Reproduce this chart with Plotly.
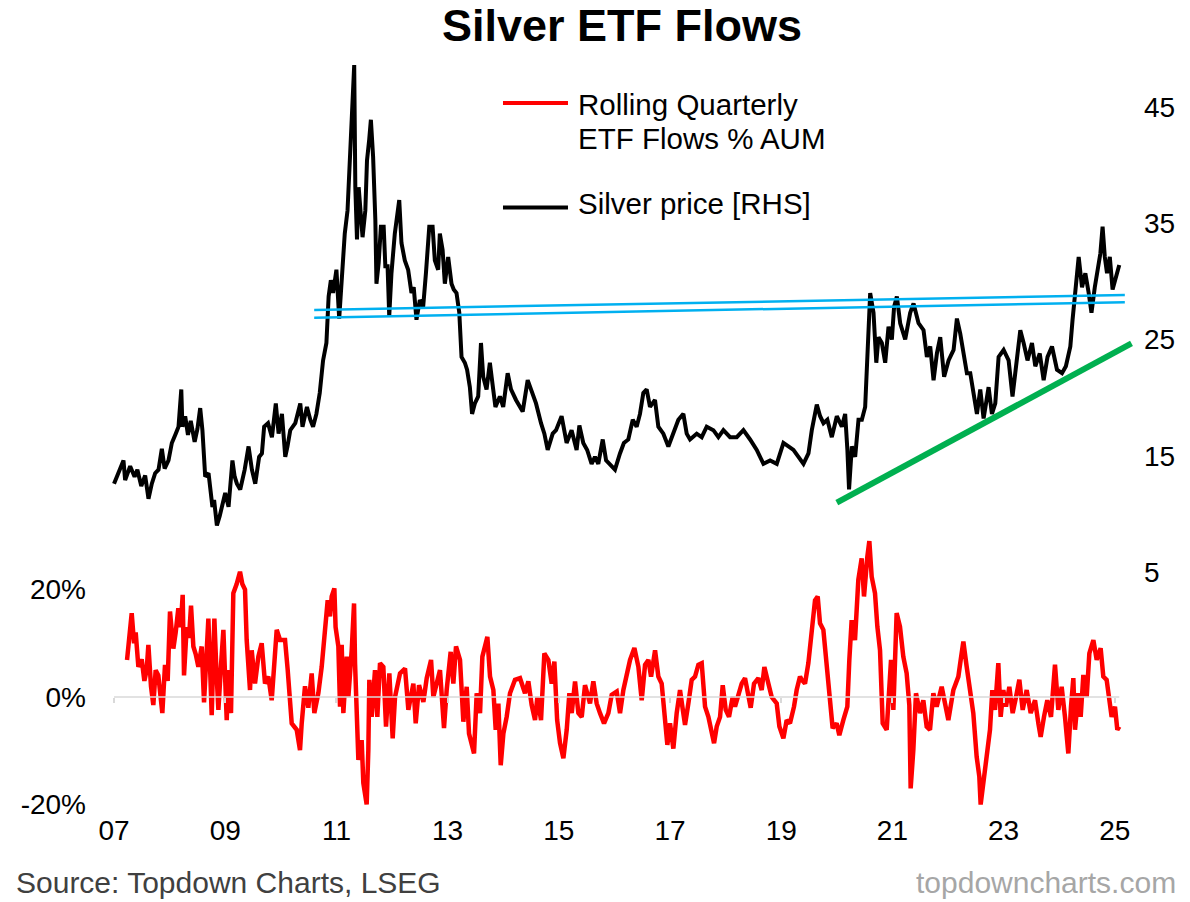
import plotly.graph_objects as go

# Silver price, USD/oz (right axis) -- time in decimal years
PRICE_T = [
    2007.00, 2007.08, 2007.17, 2007.20, 2007.29, 2007.37, 2007.42, 2007.49, 2007.56, 2007.62,
    2007.68, 2007.74, 2007.80, 2007.86, 2007.91, 2007.98, 2008.04, 2008.11, 2008.16, 2008.21,
    2008.23, 2008.28, 2008.33, 2008.38, 2008.45, 2008.50, 2008.55, 2008.59, 2008.64, 2008.70,
    2008.73, 2008.77, 2008.80, 2008.85, 2008.90, 2008.94, 2009.00, 2009.06, 2009.13, 2009.17,
    2009.21, 2009.27, 2009.35, 2009.42, 2009.48, 2009.54, 2009.61, 2009.66, 2009.70, 2009.77,
    2009.84, 2009.91, 2009.96, 2010.02, 2010.08, 2010.12, 2010.17, 2010.26, 2010.35, 2010.39,
    2010.47, 2010.53, 2010.58, 2010.64, 2010.70, 2010.76, 2010.82, 2010.86, 2010.90, 2010.94,
    2011.00, 2011.05, 2011.09, 2011.15, 2011.20, 2011.24, 2011.29, 2011.32, 2011.34, 2011.37,
    2011.40, 2011.44, 2011.47, 2011.52, 2011.55, 2011.59, 2011.62, 2011.66, 2011.70, 2011.72,
    2011.76, 2011.80, 2011.85, 2011.88, 2011.92, 2011.95, 2011.99, 2012.05, 2012.13, 2012.17,
    2012.23, 2012.29, 2012.35, 2012.39, 2012.44, 2012.50, 2012.56, 2012.61, 2012.67, 2012.73,
    2012.77, 2012.83, 2012.86, 2012.91, 2012.95, 2013.01, 2013.07, 2013.11, 2013.16, 2013.21,
    2013.25, 2013.31, 2013.35, 2013.40, 2013.44, 2013.49, 2013.55, 2013.60, 2013.64, 2013.70,
    2013.76, 2013.82, 2013.86, 2013.94, 2014.00, 2014.08, 2014.14, 2014.23, 2014.35, 2014.44,
    2014.52, 2014.59, 2014.68, 2014.74, 2014.80, 2014.89, 2014.95, 2015.05, 2015.14, 2015.23,
    2015.32, 2015.37, 2015.44, 2015.51, 2015.59, 2015.65, 2015.71, 2015.79, 2015.85, 2015.92,
    2016.01, 2016.10, 2016.17, 2016.25, 2016.33, 2016.40, 2016.46, 2016.52, 2016.58, 2016.64,
    2016.73, 2016.79, 2016.88, 2016.97, 2017.06, 2017.15, 2017.24, 2017.30, 2017.36, 2017.48,
    2017.57, 2017.66, 2017.78, 2017.87, 2017.96, 2018.08, 2018.20, 2018.32, 2018.44, 2018.56,
    2018.68, 2018.80, 2018.92, 2019.04, 2019.13, 2019.22, 2019.31, 2019.40, 2019.49, 2019.55,
    2019.64, 2019.70, 2019.76, 2019.83, 2019.91, 2020.00, 2020.09, 2020.15, 2020.19, 2020.22,
    2020.27, 2020.33, 2020.39, 2020.45, 2020.51, 2020.55, 2020.60, 2020.66, 2020.71, 2020.75,
    2020.81, 2020.87, 2020.93, 2020.99, 2021.03, 2021.08, 2021.14, 2021.23, 2021.32, 2021.38,
    2021.47, 2021.56, 2021.62, 2021.68, 2021.74, 2021.80, 2021.86, 2021.93, 2022.01, 2022.10,
    2022.16, 2022.22, 2022.28, 2022.34, 2022.40, 2022.46, 2022.52, 2022.58, 2022.64, 2022.73,
    2022.79, 2022.85, 2022.91, 2023.00, 2023.09, 2023.16, 2023.24, 2023.30, 2023.36, 2023.43,
    2023.51, 2023.57, 2023.65, 2023.72, 2023.79, 2023.87, 2023.96, 2024.05, 2024.12, 2024.20,
    2024.24, 2024.29, 2024.35, 2024.41, 2024.47, 2024.53, 2024.58, 2024.64, 2024.70, 2024.74,
    2024.78, 2024.82, 2024.86, 2024.91, 2024.96, 2025.02, 2025.08,
]
PRICE_V = [
    12.6, 13.5, 14.6, 12.9, 14.1, 13.2, 13.8, 12.4, 13.3, 11.3,
    12.6, 13.5, 13.8, 15.6, 13.9, 14.6, 16.1, 16.9, 17.5, 20.7,
    17.5, 18.4, 16.8, 18.0, 16.2, 17.3, 19.1, 17.2, 13.2, 13.5,
    12.0, 10.6, 11.2, 9.0, 9.8, 10.5, 11.8, 10.6, 14.6, 13.2,
    12.6, 12.1, 13.8, 15.8, 13.8, 12.6, 14.9, 15.2, 17.5, 17.8,
    16.6, 19.5, 16.9, 18.6, 14.9, 15.8, 17.2, 17.8, 19.5, 17.5,
    19.2, 18.1, 17.5, 18.6, 20.4, 23.2, 24.7, 28.7, 30.1, 29.0,
    31.0, 26.8, 29.8, 34.1, 36.1, 40.4, 44.7, 48.6, 38.1, 33.6,
    38.1, 35.6, 33.8, 36.1, 40.4, 42.2, 43.9, 40.7, 35.3, 29.8,
    31.6, 34.7, 34.7, 31.3, 31.3, 27.0, 30.7, 34.1, 37.0, 33.3,
    31.8, 31.0, 29.0, 29.5, 26.7, 28.4, 27.8, 30.7, 34.7, 34.7,
    31.8, 31.0, 34.1, 32.7, 29.8, 32.1, 29.8, 29.3, 29.0, 27.3,
    23.5, 23.0, 22.4, 20.9, 18.6, 19.5, 20.1, 24.7, 21.8, 20.7,
    23.0, 20.7, 19.2, 20.1, 19.2, 22.1, 20.7, 19.8, 18.8, 21.5,
    20.4, 19.5, 17.8, 16.9, 15.5, 16.9, 17.2, 18.4, 16.1, 17.2,
    15.5, 17.6, 16.1, 15.5, 14.3, 14.9, 14.3, 16.4, 14.6, 14.2,
    13.8, 15.2, 16.1, 16.4, 18.1, 17.5, 18.6, 20.4, 20.7, 19.2,
    19.8, 17.5, 16.9, 15.8, 16.9, 18.1, 18.6, 16.9, 16.4, 16.9,
    16.6, 17.5, 17.2, 16.6, 17.2, 16.6, 16.6, 17.2, 16.4, 15.5,
    14.3, 14.6, 14.3, 16.1, 15.8, 15.5, 14.9, 14.3, 15.2, 17.2,
    19.4, 18.4, 17.8, 18.1, 16.6, 18.4, 17.5, 18.6, 15.5, 12.1,
    15.8, 14.9, 18.1, 18.1, 19.2, 23.2, 29.0, 27.3, 23.0, 25.2,
    24.7, 23.0, 26.1, 25.0, 27.8, 28.7, 26.4, 25.0, 27.3, 28.1,
    26.4, 25.8, 23.5, 24.4, 21.5, 23.8, 25.2, 21.8, 23.2, 24.1,
    26.8, 25.5, 23.8, 22.1, 22.1, 20.4, 18.6, 20.7, 18.2, 20.9,
    18.6, 19.5, 23.5, 24.1, 23.2, 20.1, 23.2, 25.8, 24.7, 23.2,
    24.7, 22.7, 23.8, 21.5, 23.5, 24.4, 22.4, 22.1, 22.7, 24.4,
    26.7, 29.0, 32.1, 29.5, 30.7, 29.0, 27.3, 29.5, 31.3, 32.4,
    34.7, 32.1, 30.7, 32.1, 29.3, 30.4, 31.4,
]

# Rolling quarterly ETF flows, % of AUM (left axis)
FLOW_T = [
    2007.234, 2007.318, 2007.360, 2007.390, 2007.438, 2007.498, 2007.546, 2007.587, 2007.618, 2007.665,
    2007.707, 2007.749, 2007.797, 2007.833, 2007.869, 2007.917, 2007.965, 2008.007, 2008.067, 2008.109,
    2008.157, 2008.199, 2008.235, 2008.259, 2008.307, 2008.349, 2008.385, 2008.427, 2008.469, 2008.517,
    2008.577, 2008.619, 2008.655, 2008.697, 2008.757, 2008.805, 2008.841, 2008.877, 2008.925, 2008.967,
    2009.027, 2009.056, 2009.104, 2009.146, 2009.206, 2009.266, 2009.308, 2009.356, 2009.386, 2009.446,
    2009.476, 2009.536, 2009.596, 2009.656, 2009.716, 2009.776, 2009.836, 2009.878, 2009.926, 2009.986,
    2010.076, 2010.124, 2010.166, 2010.196, 2010.286, 2010.345, 2010.375, 2010.405, 2010.435, 2010.495,
    2010.555, 2010.603, 2010.675, 2010.735, 2010.795, 2010.843, 2010.885, 2010.915, 2010.963, 2010.985,
    2011.035, 2011.065, 2011.095, 2011.125, 2011.185, 2011.215, 2011.275, 2011.317, 2011.335, 2011.365,
    2011.395, 2011.454, 2011.484, 2011.544, 2011.574, 2011.592, 2011.634, 2011.694, 2011.736, 2011.784,
    2011.844, 2011.892, 2011.952, 2012.012, 2012.054, 2012.144, 2012.234, 2012.294, 2012.384, 2012.426,
    2012.486, 2012.564, 2012.624, 2012.702, 2012.743, 2012.863, 2012.935, 2012.983, 2013.055, 2013.103,
    2013.151, 2013.223, 2013.283, 2013.343, 2013.385, 2013.475, 2013.523, 2013.583, 2013.625, 2013.715,
    2013.763, 2013.823, 2013.865, 2013.913, 2013.955, 2014.003, 2014.062, 2014.122, 2014.212, 2014.302,
    2014.392, 2014.452, 2014.512, 2014.572, 2014.614, 2014.680, 2014.740, 2014.812, 2014.872, 2014.920,
    2014.970, 2015.022, 2015.082, 2015.142, 2015.190, 2015.232, 2015.292, 2015.352, 2015.412, 2015.471,
    2015.561, 2015.621, 2015.681, 2015.741, 2015.813, 2015.891, 2015.951, 2016.041, 2016.101, 2016.161,
    2016.221, 2016.281, 2016.359, 2016.431, 2016.491, 2016.551, 2016.611, 2016.659, 2016.731, 2016.790,
    2016.850, 2016.910, 2016.952, 2017.000, 2017.060, 2017.120, 2017.180, 2017.222, 2017.270, 2017.330,
    2017.390, 2017.450, 2017.510, 2017.570, 2017.630, 2017.690, 2017.750, 2017.792, 2017.840, 2017.900,
    2017.948, 2018.002, 2018.061, 2018.127, 2018.169, 2018.229, 2018.289, 2018.349, 2018.397, 2018.451,
    2018.511, 2018.589, 2018.649, 2018.697, 2018.769, 2018.829, 2018.919, 2018.967, 2019.039, 2019.098,
    2019.158, 2019.230, 2019.278, 2019.338, 2019.368, 2019.428, 2019.488, 2019.548, 2019.608, 2019.656,
    2019.698, 2019.758, 2019.817, 2019.877, 2019.925, 2019.997, 2020.045, 2020.117, 2020.189, 2020.225,
    2020.267, 2020.327, 2020.387, 2020.447, 2020.489, 2020.549, 2020.585, 2020.627, 2020.687, 2020.729,
    2020.777, 2020.825, 2020.897, 2020.975, 2021.017, 2021.076, 2021.136, 2021.196, 2021.256, 2021.304,
    2021.328, 2021.376, 2021.424, 2021.496, 2021.556, 2021.616, 2021.676, 2021.736, 2021.796, 2021.886,
    2021.946, 2022.006, 2022.096, 2022.186, 2022.228, 2022.276, 2022.336, 2022.395, 2022.455, 2022.515,
    2022.563, 2022.587, 2022.635, 2022.695, 2022.755, 2022.797, 2022.845, 2022.905, 2022.947, 2022.995,
    2023.043, 2023.103, 2023.163, 2023.223, 2023.283, 2023.343, 2023.415, 2023.487, 2023.565, 2023.625,
    2023.666, 2023.726, 2023.786, 2023.852, 2023.924, 2023.984, 2024.044, 2024.104, 2024.164, 2024.212,
    2024.254, 2024.284, 2024.344, 2024.386, 2024.434, 2024.494, 2024.542, 2024.614, 2024.674, 2024.745,
    2024.793, 2024.853, 2024.901, 2024.943, 2025.003, 2025.045, 2025.081,
]
FLOW_V = [
    6.9, 15.6, 10.0, 12.0, 5.6, 7.0, 3.0, 5.0, 9.7, 2.0,
    -1.5, 5.0, 4.0, 1.0, -3.0, 6.0, 3.0, 15.9, 9.0, 12.0,
    16.5, 13.0, 19.0, 4.0, 13.0, 11.0, 17.0, 9.4, 8.0, 5.6,
    9.4, -1.0, 8.0, 14.6, -3.4, 14.6, 5.0, -2.4, 6.0, 12.5,
    -4.3, 5.0, -3.0, 19.3, 21.0, 23.3, 21.0, 20.0, 10.6, 1.3,
    8.7, 2.5, 7.5, 10.0, 2.5, 3.8, -0.6, 5.0, 12.5, 10.6,
    10.6, 5.0, -0.6, -4.9, -6.1, -9.9, -5.0, -1.2, 2.0, -2.0,
    4.4, -3.0, 0.7, 5.6, 12.5, 18.0, 15.0, 18.7, 20.2, 13.0,
    9.4, -1.8, 9.7, -3.0, 7.5, 0.0, 8.7, 17.4, 6.3, -3.0,
    -11.7, -8.0, -16.0, -20.0, -9.9, 3.2, -3.7, 5.0, -3.7, 6.3,
    5.6, -5.5, 4.4, -7.7, 0.0, 4.4, 5.3, -2.4, 2.5, -4.9,
    2.2, -0.9, 3.5, 6.9, 0.0, 5.0, -5.8, 1.3, 8.4, 2.5,
    9.4, 6.9, -4.6, 1.9, -6.8, -10.5, 0.7, -3.0, 7.5, 11.2,
    3.8, 1.3, -6.1, -1.2, -12.7, -6.8, -3.7, 0.7, 3.2, 3.5,
    0.7, 2.9, -1.5, -4.3, 0.0, -4.3, 8.1, 6.9, 2.5, 6.6,
    -4.3, -8.6, -11.4, -6.1, 0.7, -3.0, 2.9, -3.0, -3.7, 2.2,
    -1.2, 2.9, -1.2, -3.0, -4.9, -3.0, 0.4, 1.0, -3.0, 1.3,
    4.4, 6.9, 9.1, 5.6, -0.6, 6.0, 6.9, 3.8, 8.7, 3.8,
    2.5, -4.9, -8.9, -4.9, -9.6, -3.0, 1.3, -1.8, -5.2, -1.2,
    3.2, 3.8, 6.0, 6.3, -1.8, -3.7, -6.1, -8.6, -5.5, -3.7,
    2.2, -2.4, -3.7, 0.0, -1.8, 0.7, 2.5, 3.5, 0.7, -2.0,
    2.5, 3.5, 1.3, 5.6, 2.5, 0.0, -1.2, -5.5, -7.7, -4.3,
    -4.9, -1.8, 1.3, 3.8, 3.2, 2.5, 6.3, 11.8, 18.0, 18.7,
    13.7, 12.5, 6.3, 0.0, -5.8, -4.9, -7.1, -4.3, -1.8, 6.9,
    14.3, 10.6, 21.8, 25.8, 18.7, 26.1, 29.0, 22.4, 19.3, 13.1,
    8.7, -4.9, -6.1, 6.9, -2.4, 15.6, 13.1, 7.5, 4.4, -1.5,
    -17.0, -9.9, 0.7, -3.0, -0.6, -5.5, -6.1, 0.7, -1.8, 1.9,
    -1.8, -4.3, 1.3, 3.8, 6.9, 10.3, 5.6, 1.3, -3.0, -11.1,
    -14.8, -20.0, -16.0, -11.1, -6.1, 1.3, -2.4, 6.3, -3.7, 1.3,
    -1.8, 1.9, -3.0, 0.0, 3.2, -2.4, 1.3, -3.0, -0.6, -4.9,
    -7.4, -3.7, -0.6, -3.7, 6.0, -2.4, 1.9, -3.7, -10.5, -1.8,
    3.5, -6.1, 0.7, -3.7, 4.1, 0.0, 8.1, 10.6, 6.9, 9.1,
    3.8, 3.2, 0.0, -3.7, -1.8, -6.1, -5.5,
]

# Hand-drawn annotations on the price panel (right axis units)
BAND_T = [2010.60, 2025.18]
BAND_UPPER = [27.54, 28.83]
BAND_LOWER = [26.88, 28.20]
SUPPORT_T = [2020.00, 2025.30]
SUPPORT_V = [10.96, 24.67]

ZERO_T = [2007.00, 2025.08]
ZERO_V = [0, 0]

X_TICKS = [2007, 2009, 2011, 2013, 2015, 2017, 2019, 2021, 2023, 2025]
X_LABELS = ["07", "09", "11", "13", "15", "17", "19", "21", "23", "25"]
LEFT_TICKS = [-20, 0, 20]
LEFT_LABELS = ["-20%", "0%", "20%"]
RIGHT_TICKS = [5, 15, 25, 35, 45]

FONT = "Liberation Sans, Arial, sans-serif"
X_RANGE = [2006.658, 2025.363]
LEFT_RANGE = [-21.02, 118.5]
RIGHT_RANGE = [-15.47, 49.04]

fig = go.Figure()

fig.add_trace(go.Scatter(x=ZERO_T, y=ZERO_V, mode="lines", xaxis="x2", yaxis="y",
                         line=dict(color="#d9d9d9", width=1.5), hoverinfo="skip"))
fig.add_trace(go.Scatter(x=FLOW_T, y=FLOW_V, mode="lines", yaxis="y",
                         name="Rolling Quarterly ETF Flows % AUM",
                         line=dict(color="#ff0000", width=4.5)))
fig.add_trace(go.Scatter(x=PRICE_T, y=PRICE_V, mode="lines", yaxis="y2",
                         name="Silver price [RHS]",
                         line=dict(color="#000000", width=4)))
for band in (BAND_UPPER, BAND_LOWER):
    fig.add_trace(go.Scatter(x=BAND_T, y=band, mode="lines", yaxis="y2",
                             line=dict(color="#00b0f0", width=2.5), hoverinfo="skip"))
fig.add_trace(go.Scatter(x=SUPPORT_T, y=SUPPORT_V, mode="lines", yaxis="y2",
                         line=dict(color="#00b050", width=6), hoverinfo="skip"))

zero_pos = -LEFT_RANGE[0] / (LEFT_RANGE[1] - LEFT_RANGE[0])

fig.update_layout(
    width=1190, height=902,
    margin=dict(l=95, r=55, t=60, b=92),
    paper_bgcolor="white", plot_bgcolor="white",
    font=dict(family=FONT, size=28, color="#000000"),
    showlegend=False,
    title=dict(text="<b>Silver ETF Flows</b>", x=0.5227, xref="container", xanchor="center",
               y=0.9723, yref="container", yanchor="middle",
               font=dict(family=FONT, size=45, color="#000000")),
    xaxis=dict(range=X_RANGE, tickvals=X_TICKS, ticktext=X_LABELS, showgrid=False,
               zeroline=False, showline=False, ticks="", ticklabelstandoff=1,
               tickfont=dict(size=28)),
    xaxis2=dict(range=X_RANGE, overlaying="x", anchor="free", position=zero_pos,
                tickvals=X_TICKS, showticklabels=False, ticks="outside", ticklen=5,
                tickwidth=1.5, tickcolor="#d9d9d9", showgrid=False, zeroline=False,
                showline=False),
    yaxis=dict(range=LEFT_RANGE, tickvals=LEFT_TICKS, ticktext=LEFT_LABELS, showgrid=False,
               zeroline=False, showline=False, ticks="", ticklabelstandoff=8,
               tickfont=dict(size=28)),
    yaxis2=dict(range=RIGHT_RANGE, overlaying="y", side="right", tickvals=RIGHT_TICKS,
                showgrid=False, zeroline=False, showline=False, ticks="",
                ticklabelstandoff=8, tickfont=dict(size=28)),
)

# Legend drawn by hand so the two-line entry sits like the original
fig.add_shape(type="line", xref="paper", yref="paper", x0=0.3923, x1=0.4548,
              y0=0.9427, y1=0.9427, line=dict(color="#ff0000", width=4))
fig.add_shape(type="line", xref="paper", yref="paper", x0=0.3923, x1=0.4548,
              y0=0.8033, y1=0.8033, line=dict(color="#000000", width=4))
legend_text = [("Rolling Quarterly", 0.9413), ("ETF Flows % AUM", 0.8947),
               ("Silver price [RHS]", 0.8080)]
for txt, yy in legend_text:
    fig.add_annotation(text=txt, xref="paper", yref="paper", x=0.4625, y=yy,
                       xanchor="left", yanchor="middle", showarrow=False,
                       font=dict(family=FONT, size=29.5, color="#000000"))

fig.add_annotation(text="Source: Topdown Charts, LSEG", xref="paper", yref="paper",
                   x=-0.0779, y=-0.096, xanchor="left", yanchor="middle", showarrow=False,
                   font=dict(family=FONT, size=30, color="#404040"))
fig.add_annotation(text="topdowncharts.com", xref="paper", yref="paper",
                   x=1.0413, y=-0.096, xanchor="right", yanchor="middle", showarrow=False,
                   font=dict(family=FONT, size=30, color="#a6a6a6"))

# drop the browser's default 8px body margin so the figure fills the window
fig.write_html("out.html", config={"displayModeBar": False},
               post_script="document.body.style.margin = '0';")
